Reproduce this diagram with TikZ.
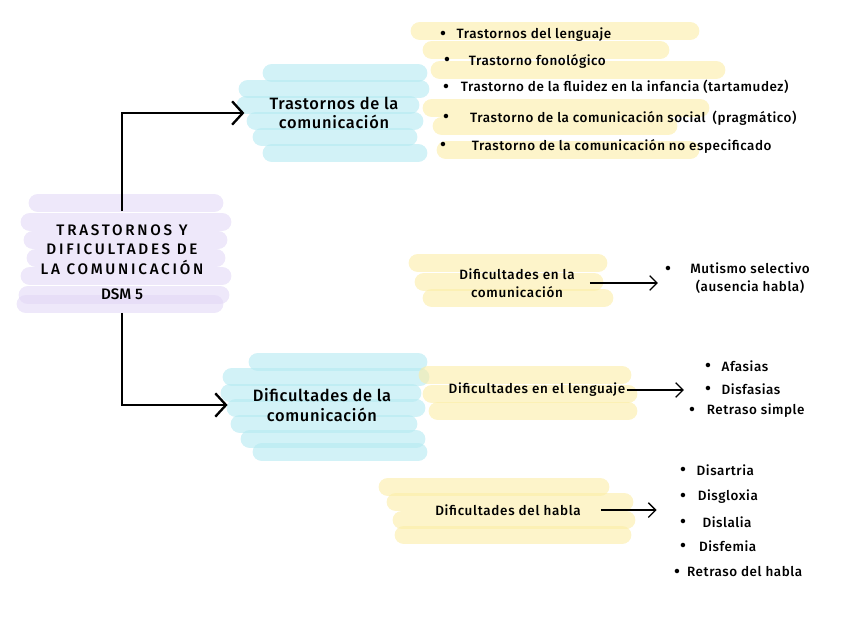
\documentclass[tikz,border=0pt]{standalone}
\usepackage{fontspec}
\setmainfont{Fira Sans}[UprightFont={* Medium}]
\usetikzlibrary{arrows.meta}
\definecolor{lila}{HTML}{E2D8F6}
\definecolor{celeste}{HTML}{B4E9F1}
\definecolor{amarillo}{HTML}{FBEDA6}
\newcommand\punto{\raisebox{-0.6pt}{\fontsize{15}{13}\selectfont\textbullet}}
\tikzset{
  band/.style={line width=16pt, line cap=round, opacity=.6},
  arr/.style={-{Straight Barb[length=3.2mm,width=7mm]}, line width=2pt},
  flecha/.style={-{Straight Barb[length=2.2mm,width=4.4mm]}, line width=1.1pt},
  tema/.style={align=center, font=\fontsize{14}{16.5}\selectfont\addfontfeature{LetterSpace=4}, inner xsep=7.5mm, inner ysep=0pt},
  sub/.style={align=center, font=\fontsize{11.5}{15}\selectfont\addfontfeature{LetterSpace=5}, inner xsep=4.5mm, inner ysep=0pt},
  item/.style={anchor=west, font=\fontsize{11.5}{13}\selectfont\addfontfeature{LetterSpace=4}, inner sep=0pt},
}
\begin{document}
\begin{tikzpicture}[x=0.03cm, y=-0.03cm]
\useasboundingbox (0,0) rectangle (848,636);

% highlight bands
\foreach \ya/\xa/\xb in {203/38/214, 222/30/222, 240/33/218, 258/36/216, 276/30/222, 295/28/220, 304/26/214}
  \draw[band, lila] (\xa,\ya) -- (\xb,\ya);
\foreach \ya/\xa/\xb in {73/272/418, 89/248/420, 105/246/410, 121/256/414, 137/262/408, 153/272/418}
  \draw[band, celeste] (\xa,\ya) -- (\xb,\ya);
\foreach \ya/\xa/\xb in {362/258/418, 377/232/420, 393/230/412, 408/236/416, 424/240/408, 439/250/416, 452/262/418}
  \draw[band, celeste] (\xa,\ya) -- (\xb,\ya);
\foreach \ya/\xa/\xb in {31/420/690, 50/432/660, 70/440/716, 108/432/700, 126/442/668, 150/446/690}
  \draw[band, amarillo] (\xa,\ya) -- (\xb,\ya);
\foreach \ya/\xa/\xb in {263/418/598, 282/424/594, 298/432/604}
  \draw[band, amarillo] (\xa,\ya) -- (\xb,\ya);
\foreach \ya/\xa/\xb in {375/428/622, 394/432/628, 411/438/628}
  \draw[band, amarillo] (\xa,\ya) -- (\xb,\ya);
\foreach \ya/\xa/\xb in {487/388/600, 502/396/624, 520/402/626, 535/404/622}
  \draw[band, amarillo] (\xa,\ya) -- (\xb,\ya);

% main topic
\node[align=center, inner xsep=0pt, inner ysep=11pt, font=\fontsize{13}{17}\selectfont] (main) at (122,262)
  {\addfontfeature{LetterSpace=18}TRASTORNOS Y\\\addfontfeature{LetterSpace=18}DIFICULTADES DE\\\addfontfeature{LetterSpace=18}LA COMUNICACIÓN\\[4pt]DSM 5};

\node[tema] (trast) at (334,113) {Trastornos de la\\comunicación};
\node[tema] (dific) at (322,405) {Dificultades de la\\comunicación};

\draw[arr] (main.north) |- (trast.west);
\draw[arr] (main.south) |- (dific.west);

% trastornos
\node[item] (t1) at (440,35) {\punto\hspace{9pt}Trastornos del lenguaje};
\node[item] (t2) at (444,61) {\punto\hspace{16pt}Trastorno fonológico};
\node[item] (t3) at (443,87) {\punto\hspace{10pt}Trastorno de la fluidez en la infancia (tartamudez)};
\node[item] (t4) at (443,118) {\punto\hspace{18pt}Trastorno de la comunicación social\hspace{6pt}(pragmático)};
\node[item] (t5) at (440,146) {\punto\hspace{22pt}Trastorno de la comunicación no especificado};

% dificultades
\node[sub] (dcom) at (517,283) {Dificultades en la\\comunicación};
\node[item] (mut) at (665,270) {\punto};
\node[font=\fontsize{11.5}{15}\selectfont\addfontfeature{LetterSpace=4}, align=center, inner sep=0pt] (mutt) at (750,278) {Mutismo selectivo\\(ausencia habla)};
\draw[flecha, shorten >=6pt] (dcom.east) -- (dcom.east -| mut.west);

\node[sub, inner xsep=1pt] (leng) at (537,390) {Dificultades en el lenguaje};
\node[item] (l1) at (705,366) {\punto\hspace{9pt}Afasias};
\node[item] (l2) at (705,389) {\punto\hspace{9pt}Disfasias};
\node[item] (l3) at (689,411) {\punto\hspace{10pt}Retraso simple};
\draw[flecha, shorten >=18pt] (leng.east) -- (leng.east -| l2.west);

\node[sub, inner xsep=6mm] (habla) at (508,510) {Dificultades del habla};
\node[item] (h1) at (680,470) {\punto\hspace{9pt}Disartria};
\node[item] (h2) at (680,497) {\punto\hspace{10pt}Disgloxia};
\node[item] (h3) at (680,522) {\punto\hspace{14pt}Dislalia};
\node[item] (h4) at (680,546) {\punto\hspace{11pt}Disfemia};
\node[item] (h5) at (674,572) {\punto\hspace{6pt}Retraso del habla};
\draw[flecha, shorten >=20pt] (habla.east) -- (habla.east -| h2.west);
\end{tikzpicture}
\end{document}
